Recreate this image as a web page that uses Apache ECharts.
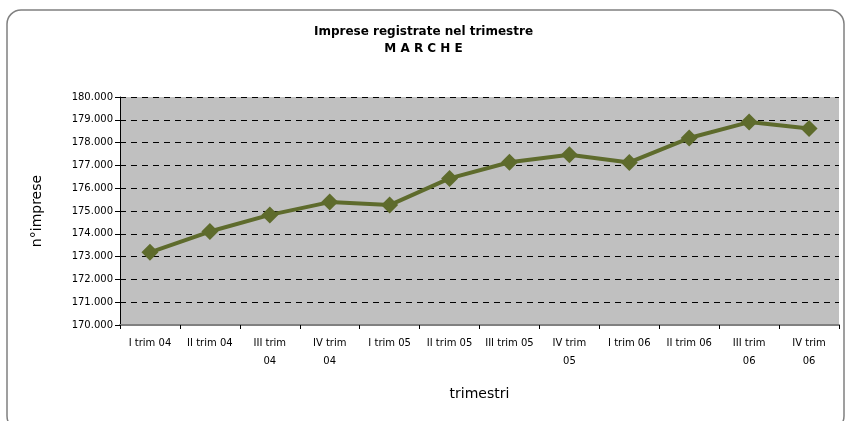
<!DOCTYPE html>
<html>
<head>
<meta charset="utf-8">
<title>Imprese registrate nel trimestre - Marche</title>
<script src="https://cdn.jsdelivr.net/npm/echarts@6/dist/echarts.min.js"></script>
<style>
html, body {margin: 0; padding: 0; background: #fff;}
#main {width: 847px; height: 421px;}
</style>
</head>
<body>
<div id="main"></div>
<script type="text/javascript">
// trimestri (categorie) e numero di imprese registrate
var trimestri = ['I trim 04', 'II trim 04', 'III trim 04', 'IV trim 04', 'I trim 05', 'II trim 05',
  'III trim 05', 'IV trim 05', 'I trim 06', 'II trim 06', 'III trim 06', 'IV trim 06'];
var etichetteX = ['I trim 04', 'II trim 04', 'III trim\n04', 'IV trim\n04', 'I trim 05', 'II trim 05',
  'III trim 05', 'IV trim\n05', 'I trim 06', 'II trim 06', 'III trim\n06', 'IV trim\n06'];
var imprese = [173190, 174100, 174830, 175390, 175260, 176430,
  177140, 177470, 177130, 178200, 178900, 178620];
var yMin = 170000, yMax = 180000, yStep = 1000;

var chartDom = document.getElementById('main');
var myChart = echarts.init(chartDom, null, {renderer: 'canvas'});

var font = 'DejaVu Sans, Arial';

function formatMigliaia(v) {
  return String(v).replace(/\B(?=(\d{3})+(?!\d))/g, '.');
}

var option = {
  backgroundColor: '#fff',
  animation: false,
  graphic: [{
    type: 'rect',
    shape: {x: 7, y: 10, width: 837, height: 420, r: 14},
    style: {fill: 'none', stroke: '#808080', lineWidth: 1.5},
    z: -1
  }],
  title: {
    text: 'Imprese registrate nel trimestre\nM A R C H E',
    left: 'center',
    top: 18,
    textStyle: {fontFamily: font, fontSize: 12, fontWeight: 'bold', color: '#000', lineHeight: 17}
  },
  grid: {left: 120, right: 8, top: 97, bottom: 96},
  xAxis: {
    type: 'category',
    data: trimestri,
    boundaryGap: true,
    name: 'trimestri',
    nameLocation: 'middle',
    nameGap: 62,
    nameTextStyle: {fontFamily: font, fontSize: 14, color: '#000'},
    axisLine: {lineStyle: {color: '#808080', width: 2}},
    axisTick: {show: true, alignWithLabel: false, length: 4, lineStyle: {color: '#000'}},
    axisLabel: {
      fontFamily: font, fontSize: 10, color: '#000', margin: 9, lineHeight: 18,
      interval: 0,
      formatter: function (v, i) { return etichetteX[i]; }
    },
    splitLine: {show: false}
  },
  yAxis: {
    type: 'value',
    min: yMin,
    max: yMax,
    interval: yStep,
    name: 'n°imprese',
    nameLocation: 'middle',
    nameGap: 76,
    nameRotate: 90,
    nameTextStyle: {fontFamily: font, fontSize: 14, color: '#000'},
    axisLine: {show: true, lineStyle: {color: '#000', width: 1}},
    axisTick: {show: true, length: 5, lineStyle: {color: '#000'}},
    axisLabel: {
      fontFamily: font, fontSize: 10, color: '#000', margin: 7,
      formatter: formatMigliaia
    },
    splitLine: {show: true, lineStyle: {color: '#000', type: [6, 5], width: 1}},
    splitArea: {show: true, areaStyle: {color: ['#c0c0c0', '#c0c0c0']}}
  },
  series: [{
    type: 'line',
    data: imprese,
    symbol: 'diamond',
    symbolSize: 17,
    lineStyle: {color: '#5e6b2c', width: 4},
    itemStyle: {color: '#5e6b2c'}
  }]
};
myChart.setOption(option);
</script>
</body>
</html>
